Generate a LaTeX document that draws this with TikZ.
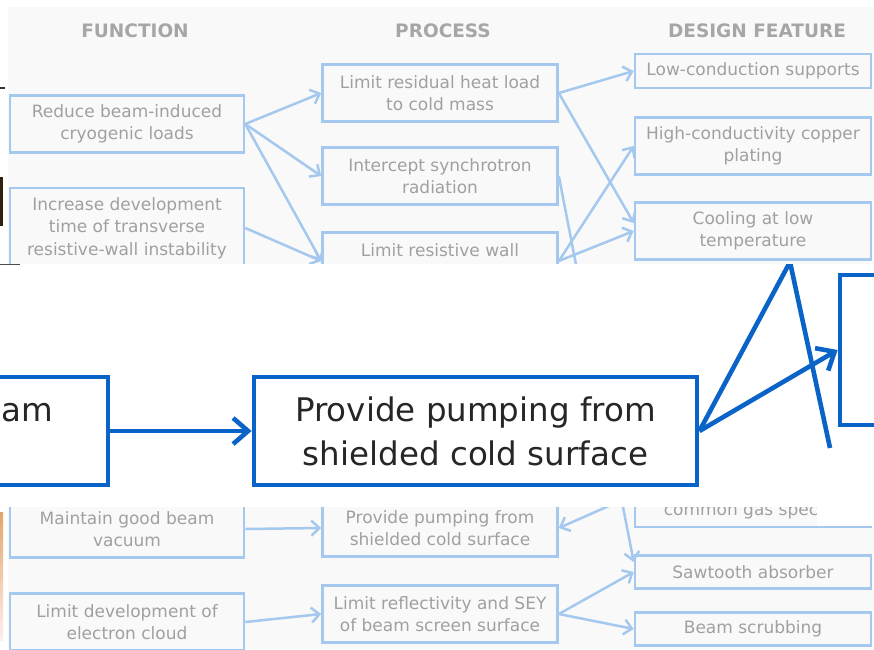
\documentclass[tikz,border=0pt]{standalone}
\usepackage{fontspec}
\setmainfont{DejaVu Sans}
\usetikzlibrary{arrows.meta,positioning}

\definecolor{paleblue}{HTML}{A4C8EE}
\definecolor{palegray}{HTML}{A0A0A0}
\definecolor{headgray}{HTML}{A6A6A6}
\definecolor{strongblue}{HTML}{0A64C8}
\definecolor{panel}{HTML}{F9F9F9}

\tikzset{
  fbox/.style={draw=paleblue, line width=2.6pt, text=palegray, align=center,
    minimum width=234pt, minimum height=57pt, inner sep=0pt,
    font=\fontsize{17}{22.5}\selectfont},
  fhead/.style={text=headgray, font=\fontsize{18.5}{20}\selectfont\bfseries},
  flink/.style={draw=paleblue, line width=2.5pt, -{Straight Barb[length=8pt,width=15pt]}},
  bbox/.style={draw=strongblue, line width=4.8pt, text=black!85, align=center,
    minimum width=443pt, minimum height=108pt, inner sep=0pt,
    font=\fontsize{32.5}{44}\selectfont},
  blink/.style={draw=strongblue, line width=4.6pt, -{Straight Barb[length=15pt,width=26pt]}},
}

\begin{document}
\begin{tikzpicture}[x=1pt, y=-1pt]
\useasboundingbox (0,0) rectangle (874,649);
\clip (0,0) rectangle (874,649);
\fill[panel] (8,7) rectangle (874,649);

% column headings
\node[fhead] (hfun) at (135,31) {FUNCTION};
\node[fhead] (hproc) at (443,31) {PROCESS};
\node[fhead] (hdes) at (757,31) {DESIGN FEATURE};

% functions
\node[fbox] (f1) at (127,124) {Reduce beam-induced\\cryogenic loads};
\node[fbox, minimum height=80pt] (f2) at (127,228) {Increase development\\time of transverse\\resistive-wall instability};
\node[fbox] (f3) at (127,529) {Maintain good beam\\vacuum};
\node[fbox] (f4) at (127,622) {Limit development of\\electron cloud};

% processes
\node[fbox, minimum width=235pt] (p1) at (440,93) {Limit residual heat load\\to cold mass};
\node[fbox, minimum width=235pt] (p2) at (440,176) {Intercept synchrotron\\radiation};
\node[fbox, minimum width=235pt] (p3) at (440,261) {Limit resistive wall\\\mbox{}};
\node[fbox, minimum width=235pt] (p4) at (440,528) {Provide pumping from\\shielded cold surface};
\node[fbox, minimum width=235pt] (p5) at (440,614) {Limit reflectivity and SEY\\of beam screen surface};

% design features
\node[fbox, minimum width=236pt, minimum height=34pt] (d1) at (753,71) {Low-conduction supports};
\node[fbox, minimum width=236pt] (d2) at (753,146) {High-conductivity copper\\plating};
\node[fbox, minimum width=236pt] (d3) at (753,231) {Cooling at low\\temperature};
\node[fbox, minimum width=236pt, minimum height=64pt] (d4) at (753,495) {\mbox{}\\\mbox{}\\common gas species};
\node[fbox, minimum width=236pt, minimum height=33pt] (d5) at (753,572) {Sawtooth absorber};
\node[fbox, minimum width=236pt, minimum height=33pt] (d6) at (753,629) {Beam scrubbing};

% links
\draw[flink] (f1.east) -- (p1.west);
\draw[flink] (f1.east) -- (p2.west);
\draw[flink] (f1.east) -- (p3.west);
\draw[flink] (f2.east) -- (p3.west);
\draw[flink] (f3.east) -- (p4.west);
\draw[flink] (f4.east) -- (p5.west);
\draw[flink] (p1.east) -- (d1.west);
\draw[flink] (p1.east) -- ([yshift=8pt]d3.west);
\draw[flink] (p2.east) -- ([yshift=10pt]d5.west);
\draw[flink] (p3.east) -- (d2.west);
\draw[flink] (p3.east) -- (d3.west);
\draw[flink] (d4.west) -- (p4.east);
\draw[flink] (p5.east) -- (d5.west);
\draw[flink] (p5.east) -- (d6.west);

% edge marks
\fill[black!80] (0,87) rectangle (5,89);
\fill[black!75!brown] (0,177) rectangle (3,226);
\shade[top color=brown!60!orange!70, bottom color=pink!25] (0,512) rectangle (3,640);

% enlarged strip
\fill[white] (0,264) rectangle (874,507);
\fill[white] (817,500) rectangle (874,526);
\draw[black!70, line width=1pt] (0,264) -- (20,264);

\begin{scope}
\clip (0,264) rectangle (874,507);
\node[bbox] (a) at (-113.5,431) {Maintain good beam\\vacuum};
\node[bbox] (b) at (475.5,431) {Provide pumping from\\shielded cold surface};
\node[bbox, minimum height=150pt] (c) at (1061.5,350) {};
\coordinate (peak) at (790,262);
\coordinate (tail) at (830,448);
\draw[blink] (a) -- (b);
\draw[blink] (b.east) -- (c.west);
\draw[strongblue, line width=4.6pt] (b.east) -- (peak) -- (tail);
\end{scope}
\end{tikzpicture}
\end{document}
